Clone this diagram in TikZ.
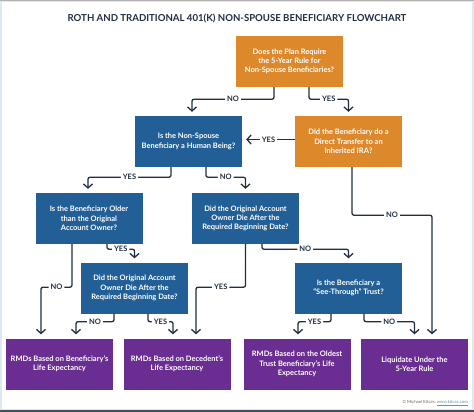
\documentclass[tikz,border=0pt]{standalone}
\usepackage{fontspec}
\setmainfont{Lato}
\usetikzlibrary{arrows.meta,positioning}

\definecolor{kitorange}{RGB}{222,136,44}
\definecolor{kitblue}{RGB}{34,95,150}
\definecolor{kitpurple}{RGB}{106,45,145}
\definecolor{kitnavy}{RGB}{32,46,66}
\definecolor{kitframe}{RGB}{222,232,239}

\tikzset{
  box/.style={minimum width=107pt, minimum height=51pt,
    align=center, inner sep=0pt, text=white,
    font=\bfseries\fontsize{7.5}{9.3}\selectfont},
  ask/.style={box, fill=kitorange},
  test/.style={box, fill=kitblue},
  result/.style={box, fill=kitpurple},
  lbl/.style={fill=white, text=kitnavy, inner sep=2pt,
    font=\bfseries\fontsize{7.5}{8}\selectfont},
}

\begin{document}
\begin{tikzpicture}[x=1pt,y=-1pt,>={Straight Barb[length=4pt,width=9pt]},
    flow/.style={->, draw=kitnavy, line width=1.3pt, rounded corners=2pt, shorten >=4pt}]
  \useasboundingbox (0,0) rectangle (474,412);
  % frame
  \fill[kitframe] (0,0) rectangle (474,412);
  \fill[white] (2,2) rectangle (472,409);
  \fill[black!30] (0,0) rectangle (474,1.5);
  \fill[kitnavy!85] (0,410) rectangle (474,412);

  \node[text=kitnavy, font=\bfseries\fontsize{9.6}{11}\selectfont] (title) at (237,18)
    {ROTH AND TRADITIONAL 401(K) NON-SPOUSE BENEFICIARY FLOWCHART};

  % questions
  \node[ask]  (plan)   at (289.5,61.5) {Does the Plan Require\\the 5-Year Rule for\\Non-Spouse Beneficiaries?};
  \node[test] (human)  at (188.5,141.5) {Is the Non-Spouse\\Beneficiary a Human Being?};
  \node[ask]  (direct) at (348.5,141.5) {Did the Beneficiary do a\\Direct Transfer to an\\Inherited IRA?};
  \node[test] (older)  at (89,218.5) {Is the Beneficiary Older\\than the Original\\Account Owner?};
  \node[test] (rbdA)   at (245.5,218.5) {Did the Original Account\\Owner Die After the\\Required Beginning Date?};
  \node[test] (rbdB)   at (134.5,288) {Did the Original Account\\Owner Die After the\\Required Beginning Date?};
  \node[test] (trust)  at (348.5,288) {Is the Beneficiary a\\``See-Through'' Trust?};

  % results
  \node[result] (benLE)  at (59.5,364) {RMDs Based on Beneficiary's\\Life Expectancy};
  \node[result] (decLE)  at (177,364) {RMDs Based on Decedent's\\Life Expectancy};
  \node[result] (oldLE)  at (297,364) {RMDs Based on the Oldest\\Trust Beneficiary's Life\\Expectancy};
  \node[result] (five)   at (414.5,364) {Liquidate Under the\\5-Year Rule};

  \draw[flow] ([xshift=-15.5pt]plan.south) -- ++(0,12) -| node[lbl,pos=0.25]{NO} ([xshift=3.5pt]human.north);
  \draw[flow] ([xshift=19.5pt]plan.south) -- ++(0,12) -| node[lbl,pos=0.25]{YES} (direct.north);
  \draw[flow] ([yshift=2pt]direct.west) -- node[lbl]{YES} ([yshift=2pt]human.east);
  \draw[flow] ([xshift=-17.5pt]human.south) -- ++(0,10) -| node[lbl,pos=0.25]{YES} ([xshift=-1pt]older.north);
  \draw[flow] ([xshift=17.5pt]human.south) -- ++(0,10) -| node[lbl,pos=0.25]{NO} (rbdA.north);
  \draw[flow] ([xshift=3.5pt]direct.south) -- ++(0,48) -| node[lbl,pos=0.25]{NO} ([xshift=17.5pt]five.north);
  \draw[flow] ([xshift=18pt]older.south) -- ++(0,5) -| node[lbl,pos=0.25]{YES} (rbdB.north);
  \draw[flow] ([xshift=-17pt]older.south) -- ++(0,43) -| node[lbl,pos=0.25]{NO} ([xshift=-18.5pt]benLE.north);
  \draw[flow] ([xshift=16.5pt]rbdA.south) -- ++(0,5) -| node[lbl,pos=0.25]{NO} (trust.north);
  \draw[flow] (rbdA.south) -- ++(0,43) -| node[lbl,pos=0.25]{YES} ([xshift=19pt]decLE.north);
  \draw[flow] ([xshift=-20.5pt]rbdB.south) -- ++(0,8) -| node[lbl,pos=0.25]{NO} ([xshift=16.5pt]benLE.north);
  \draw[flow] ([xshift=13.5pt]rbdB.south) -- ++(0,8) -| node[lbl,pos=0.25]{YES} ([xshift=-4pt]decLE.north);
  \draw[flow] ([xshift=-17.5pt]trust.south) -- ++(0,8) -| node[lbl,pos=0.25]{YES} ([xshift=1pt]oldLE.north);
  \draw[flow] ([xshift=15.5pt]trust.south) -- ++(0,8) -| node[lbl,pos=0.25]{NO} (five.north);

  \node[anchor=south east, inner sep=0pt, text=black!60, font=\fontsize{4.3}{5}\selectfont] (credit) at (468,406)
    {© Michael Kitces, \textcolor{kitblue!70}{\underline{www.kitces.com}}};
\end{tikzpicture}
\end{document}
